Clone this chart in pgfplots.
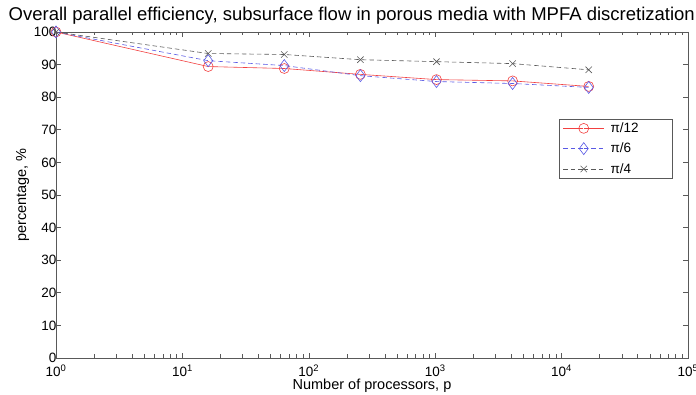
\documentclass[border=0pt]{standalone}
\usepackage{fontspec}
\setmainfont{Liberation Sans}
\usepackage{pgfplots}
\pgfplotsset{compat=1.18}

\definecolor{axgray}{gray}{0.35}
\definecolor{mred}{rgb}{0.95,0.25,0.25}
\definecolor{mblue}{rgb}{0.35,0.35,0.9}
\definecolor{mblack}{gray}{0.35}

\begin{document}
\begin{tikzpicture}[x=1pt,y=1pt]
\path[use as bounding box] (-56,-37) rectangle (640,358);
\begin{axis}[
  at={(0,0)}, anchor=south west,
  scale only axis, width=632pt, height=326pt,
  xmode=log, xmin=1, xmax=100000,
  ymin=0, ymax=100,
  ytick={0,10,...,100},
  xtick={1,10,100,1000,10000,100000},
  xticklabels={10\textsuperscript{0},10\textsuperscript{1},10\textsuperscript{2},10\textsuperscript{3},10\textsuperscript{4},10\textsuperscript{5}},
  /pgf/number format/assume math mode=true,
  tick label style={font=\fontsize{13.5}{13.5}\selectfont, black},
  yticklabel style={xshift=4pt},
  xticklabel style={yshift=-3pt},
  tick align=inside,
  major tick length=5pt, minor tick length=3.5pt,
  axis line style={axgray, line width=0.6pt},
  every tick/.style={axgray, line width=0.6pt},
  xlabel={Number of processors, p},
  ylabel={percentage, \%},
  label style={font=\fontsize{14.5}{14.5}\selectfont},
  xlabel style={yshift=4pt},
  ylabel style={yshift=-2pt},
  legend style={at={(0.976,0.733)}, anchor=north east, draw=axgray,
    font=\fontsize{13.5}{20}\selectfont, row sep=5pt,
    inner xsep=4pt, inner ysep=1.5pt},
  legend cell align=left,
  legend image code/.code={
    \draw[#1] (0pt,0pt) -- (20pt,0pt) plot coordinates {(20.5pt,0pt)} -- (41pt,0pt);
  },
  mdash/.style={dash pattern=on 4.5pt off 3pt},
  clip=false,
]
\addplot[mred, line width=0.6pt, mark=o, mark size=5pt, mark options={solid}]
  coordinates {(1,100) (16,89.4) (64,88.8) (256,87.0) (1024,85.4) (4096,85.0) (16384,83.3)};
\addlegendentry{\hspace*{4pt}π/12\hspace*{28pt}}
\addplot[mblue, line width=0.6pt, mdash, mark=diamond, mark size=6pt, mark options={solid}]
  coordinates {(1,100) (16,91.2) (64,89.7) (256,86.6) (1024,84.8) (4096,84.2) (16384,83.0)};
\addlegendentry{\hspace*{4pt}π/6}
\addplot[mblack, line width=0.6pt, mdash, mark=x, mark size=4.5pt, mark options={solid}]
  coordinates {(1,100) (16,93.4) (64,93.1) (256,91.5) (1024,90.9) (4096,90.3) (16384,88.4)};
\addlegendentry{\hspace*{4pt}π/4}
\node[font=\fontsize{18.5}{18.5}\selectfont, anchor=base] at (rel axis cs:0.468,1.034)
  {Overall parallel efficiency, subsurface flow in porous media with MPFA discretization};
\end{axis}
\end{tikzpicture}
\end{document}
